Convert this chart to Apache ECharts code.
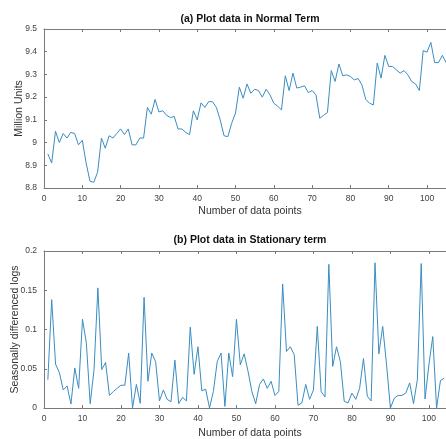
<!DOCTYPE html>
<html>
<head>
<meta charset="utf-8">
<script src="https://cdn.jsdelivr.net/npm/echarts@6/dist/echarts.min.js"></script>
<style>html,body{margin:0;padding:0;background:#fff;}#c{width:446px;height:439px;}</style>
</head>
<body>
<div id="c"></div>
<script>
// Top chart: values at data points 1..105
const normalValues = [
 8.95, 8.91, 9.05, 9.00, 9.04, 9.02, 9.045, 9.04, 8.99, 9.01,
 8.91, 8.83, 8.825, 8.87, 9.02, 8.975, 9.03, 9.02, 9.04, 9.06,
 9.035, 9.06, 8.99, 8.99, 9.02, 9.02, 9.155, 9.125, 9.19, 9.135,
 9.14, 9.12, 9.11, 9.115, 9.06, 9.06, 9.045, 9.035, 9.14, 9.10,
 9.175, 9.155, 9.18, 9.18, 9.155, 9.10, 9.03, 9.026, 9.085, 9.13,
 9.244, 9.195, 9.258, 9.217, 9.235, 9.229, 9.20, 9.235, 9.21, 9.173,
 9.16, 9.144, 9.294, 9.229, 9.306, 9.24, 9.244, 9.25, 9.22, 9.229,
 9.21, 9.107, 9.12, 9.132, 9.317, 9.269, 9.346, 9.294, 9.298, 9.291,
 9.276, 9.282, 9.254, 9.19, 9.173, 9.166, 9.35, 9.284, 9.384, 9.335,
 9.335, 9.32, 9.306, 9.317, 9.298, 9.269, 9.258, 9.229, 9.405, 9.398,
 9.441, 9.352, 9.352, 9.384, 9.352
];
// Bottom chart: values at data points 1..104
const stationaryValues = [
 0.036, 0.138, 0.056, 0.045, 0.023, 0.028, 0.005, 0.051, 0.025, 0.113,
 0.083, 0.0055, 0.049, 0.153, 0.049, 0.058, 0.016, 0.021, 0.025, 0.029,
 0.029, 0.070, 0.000, 0.030, 0.006, 0.141, 0.034, 0.070, 0.059, 0.009,
 0.023, 0.011, 0.008, 0.061, 0.0055, 0.0135, 0.009, 0.103, 0.043, 0.078,
 0.022, 0.024, 0.000, 0.021, 0.059, 0.070, 0.002, 0.070, 0.040, 0.113,
 0.055, 0.069, 0.047, 0.021, 0.0055, 0.030, 0.037, 0.025, 0.034, 0.016,
 0.021, 0.158, 0.072, 0.078, 0.068, 0.0035, 0.0065, 0.030, 0.011, 0.023,
 0.104, 0.021, 0.014, 0.183, 0.053, 0.078, 0.059, 0.0085, 0.0065, 0.019,
 0.011, 0.025, 0.063, 0.015, 0.009, 0.185, 0.069, 0.104, 0.055, 0.000,
 0.0125, 0.016, 0.016, 0.019, 0.032, 0.0055, 0.036, 0.184, 0.0115, 0.055,
 0.091, 0.000, 0.035, 0.038
];
const titleA = '(a) Plot data in Normal Term';
const titleB = '(b) Plot data in Stationary term';
const xName = 'Number of data points';
const yNameA = 'Million Units';
const yNameB = 'Seasonally differenced logs';

const FONT = 'Liberation Sans, Arial, sans-serif';
const AXC = '#7a7a7a';
const LBL = '#404040';
const LINE = '#3a8dc1';

function xAx(gi, pos, show) {
  return {
    type: 'value', gridIndex: gi, position: pos, min: 0, max: 106, interval: 10,
    axisLine: {show: true, onZero: false, lineStyle: {color: AXC, width: 1}},
    axisTick: {show: true, inside: true, length: 3, lineStyle: {color: AXC}},
    axisLabel: {show: show, color: LBL, fontSize: 8.5, fontFamily: FONT, margin: 6,
      formatter: v => (v > 100 ? '' : String(v))},
    splitLine: {show: false}
  };
}
function yAx(gi, min, max, interval, name, gap) {
  return {
    type: 'value', gridIndex: gi, min: min, max: max, interval: interval,
    name: name, nameLocation: 'middle', nameGap: gap, nameRotate: 90, nameMoveOverlap: false,
    nameTextStyle: {color: '#333', fontSize: 10.5, fontFamily: FONT},
    axisLine: {show: true, lineStyle: {color: AXC, width: 1}},
    axisTick: {show: true, inside: true, length: 3, lineStyle: {color: AXC}},
    axisLabel: {color: LBL, fontSize: 8.5, fontFamily: FONT, margin: 7},
    splitLine: {show: false}
  };
}
const chart = echarts.init(document.getElementById('c'), null, {renderer: 'canvas'});
const titleStyle = {color: '#111', fontSize: 10.5, fontWeight: 'bold', fontFamily: FONT};
const nameStyle = {color: '#333', fontSize: 10.5, fontWeight: 'normal', fontFamily: FONT};
chart.setOption({
  animation: false,
  backgroundColor: '#fff',
  title: [
    {text: titleA, left: 250, top: 14, textAlign: 'center', padding: 0, textStyle: titleStyle},
    {text: xName, left: 250, top: 206, textAlign: 'center', padding: 0, textStyle: nameStyle},
    {text: titleB, left: 250, top: 235, textAlign: 'center', padding: 0, textStyle: titleStyle},
    {text: xName, left: 250, top: 428, textAlign: 'center', padding: 0, textStyle: nameStyle}
  ],
  grid: [
    {left: 44, top: 29, height: 159, right: -4, containLabel: false, outerBoundsMode: 'none'},
    {left: 44, top: 251, height: 157, right: -6, containLabel: false, outerBoundsMode: 'none'}
  ],
  xAxis: [xAx(0, 'bottom', true), xAx(0, 'top', false), xAx(1, 'bottom', true), xAx(1, 'top', false)],
  yAxis: [yAx(0, 8.8, 9.5, 0.1, yNameA, 19), yAx(1, 0, 0.2, 0.05, yNameB, 23)],
  series: [
    {type: 'line', xAxisIndex: 0, yAxisIndex: 0, showSymbol: false, symbol: 'none',
     lineStyle: {color: LINE, width: 1}, data: normalValues.map((v, i) => [i + 1, v])},
    {type: 'line', xAxisIndex: 2, yAxisIndex: 1, showSymbol: false, symbol: 'none',
     lineStyle: {color: LINE, width: 1}, data: stationaryValues.map((v, i) => [i + 1, v])}
  ]
});
</script>
</body>
</html>
